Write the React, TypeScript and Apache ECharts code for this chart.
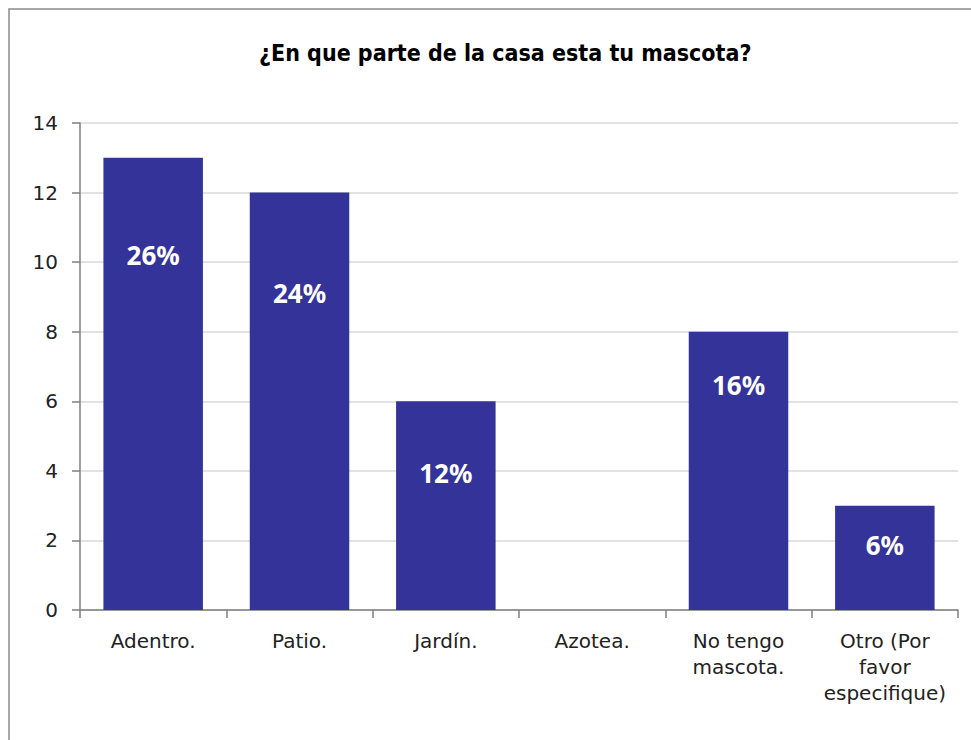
import React, { useEffect, useRef } from "react";
import * as echarts from "echarts";

const categories = ["Adentro.", "Patio.", "Jardín.", "Azotea.", "No tengo\nmascota.", "Otro (Por\nfavor\nespecifique)"];
const counts = [13, 12, 6, 0, 8, 3];
const percentLabels = ["26%", "24%", "12%", "", "16%", "6%"];
const yTicks = [0, 2, 4, 6, 8, 10, 12, 14];
const labelDistance = [82, 85, 57, 0, 38, 24];

export default function App() {
  const ref = useRef<HTMLDivElement>(null);
  useEffect(() => {
    document.body.style.margin = "0";
    const chart = echarts.init(ref.current!, null, { renderer: "svg" });
    chart.setOption({
      animation: false,
      backgroundColor: "#ffffff",
      title: {
        text: "¿En que parte de la casa esta tu mascota?",
        left: 254,
        top: 36,
        textStyle: {
          fontFamily: "DejaVu Sans Condensed, DejaVu Sans",
          fontWeight: "bold",
          fontSize: 23,
          color: "#000",
        },
      },
      graphic: [
        {
          type: "rect",
          shape: { x: 9, y: 9, width: 1200, height: 1200 },
          style: { fill: "none", stroke: "#8a8a8a", lineWidth: 1.5 },
          silent: true,
        },
      ],
      grid: { left: 80, right: 13, top: 123, bottom: 130, containLabel: false },
      xAxis: {
        type: "category",
        data: categories,
        axisLine: { lineStyle: { color: "#7f7f7f", width: 1.5 } },
        axisTick: { show: true, alignWithLabel: false, length: 8, lineStyle: { color: "#7f7f7f", width: 1.5 } },
        axisLabel: {
          interval: 0,
          margin: 18,
          fontFamily: "DejaVu Sans",
          fontSize: 20,
          lineHeight: 26,
          color: "#222",
        },
      },
      yAxis: {
        type: "value",
        min: yTicks[0],
        max: yTicks[yTicks.length - 1],
        interval: 2,
        axisLine: { show: true, lineStyle: { color: "#7f7f7f", width: 1.5 } },
        axisTick: { show: true, length: 8, lineStyle: { color: "#7f7f7f", width: 1.5 } },
        axisLabel: { margin: 22, fontFamily: "DejaVu Sans", fontSize: 20, color: "#222" },
        splitLine: { lineStyle: { color: "#d9d9d9", width: 1.5 } },
      },
      series: [
        {
          type: "bar",
          barWidth: "68%",
          data: counts.map((v, i) => ({
            value: v,
            label: {
              show: v > 0,
              position: "insideTop",
              distance: labelDistance[i],
              formatter: percentLabels[i],
              color: "#ffffff",
              fontFamily: "Noto Sans",
              fontWeight: "bold",
              fontSize: 26,
              lineHeight: 30,
            },
          })),
          itemStyle: { color: "#333399" },
        },
      ],
    });
    return () => chart.dispose();
  }, []);
  return <div ref={ref} style={{ width: 971, height: 740 }} />;
}
